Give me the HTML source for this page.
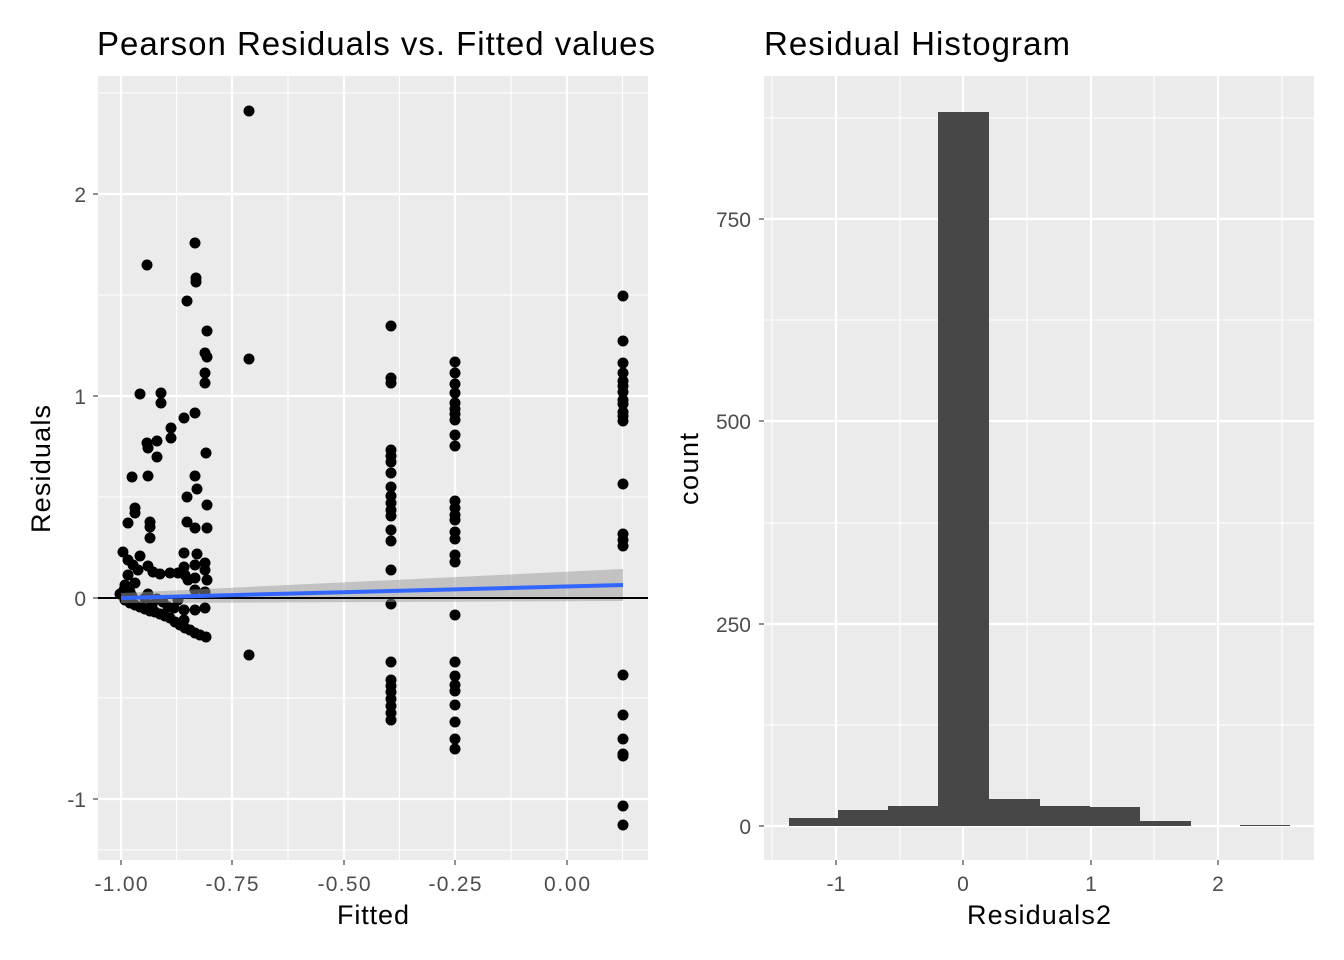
<!DOCTYPE html>
<html><head><meta charset="utf-8"><style>body{margin:0;background:#fff}svg{display:block;font-family:"Liberation Sans",Arial,sans-serif}</style></head><body>
<svg width="1344" height="960" viewBox="0 0 1344 960" xmlns="http://www.w3.org/2000/svg">
<rect width="1344" height="960" fill="#fff"/>
<!-- LEFT PANEL -->
<rect x="98" y="76" width="550" height="784" fill="#ebebeb"/>
<g stroke="#fff" stroke-width="1.1">
<line x1="176.5" y1="76" x2="176.5" y2="860"/><line x1="288" y1="76" x2="288" y2="860"/><line x1="399.5" y1="76" x2="399.5" y2="860"/><line x1="511" y1="76" x2="511" y2="860"/><line x1="622.5" y1="76" x2="622.5" y2="860"/>
<line x1="98" y1="93" x2="648" y2="93"/><line x1="98" y1="295" x2="648" y2="295"/><line x1="98" y1="497" x2="648" y2="497"/><line x1="98" y1="698" x2="648" y2="698"/><line x1="98" y1="850" x2="648" y2="850"/>
</g>
<g stroke="#fff" stroke-width="2.2">
<line x1="121" y1="76" x2="121" y2="860"/><line x1="232" y1="76" x2="232" y2="860"/><line x1="344" y1="76" x2="344" y2="860"/><line x1="455" y1="76" x2="455" y2="860"/><line x1="567" y1="76" x2="567" y2="860"/>
<line x1="98" y1="194" x2="648" y2="194"/><line x1="98" y1="396" x2="648" y2="396"/><line x1="98" y1="598" x2="648" y2="598"/><line x1="98" y1="799" x2="648" y2="799"/>
</g>
<g fill="#000">
<circle cx="249" cy="111" r="5.5"/><circle cx="249" cy="359" r="5.5"/><circle cx="249" cy="655" r="5.5"/>
<circle cx="147" cy="265" r="5.5"/><circle cx="195" cy="243" r="5.5"/><circle cx="196" cy="278" r="5.5"/><circle cx="196" cy="282" r="5.5"/><circle cx="187" cy="301" r="5.5"/><circle cx="207" cy="331" r="5.5"/><circle cx="205" cy="353" r="5.5"/><circle cx="207" cy="357" r="5.5"/><circle cx="205" cy="373" r="5.5"/><circle cx="205" cy="383" r="5.5"/><circle cx="140" cy="394" r="5.5"/><circle cx="161" cy="393" r="5.5"/><circle cx="161" cy="403" r="5.5"/><circle cx="184" cy="418" r="5.5"/><circle cx="195" cy="413" r="5.5"/><circle cx="171" cy="428" r="5.5"/><circle cx="171" cy="438" r="5.5"/><circle cx="147" cy="443" r="5.5"/><circle cx="148" cy="448" r="5.5"/><circle cx="157" cy="441" r="5.5"/><circle cx="157" cy="457" r="5.5"/><circle cx="206" cy="453" r="5.5"/><circle cx="132" cy="477" r="5.5"/><circle cx="148" cy="476" r="5.5"/><circle cx="195" cy="476" r="5.5"/><circle cx="197" cy="489" r="5.5"/><circle cx="187" cy="497" r="5.5"/><circle cx="207" cy="505" r="5.5"/><circle cx="135" cy="508" r="5.5"/><circle cx="135" cy="513" r="5.5"/><circle cx="128" cy="523" r="5.5"/><circle cx="150" cy="522" r="5.5"/><circle cx="150" cy="527" r="5.5"/><circle cx="150" cy="538" r="5.5"/><circle cx="187" cy="522" r="5.5"/><circle cx="195" cy="528" r="5.5"/><circle cx="207" cy="528" r="5.5"/><circle cx="184" cy="553" r="5.5"/><circle cx="197" cy="554" r="5.5"/>
<circle cx="123" cy="552" r="5.5"/><circle cx="128" cy="560" r="5.5"/><circle cx="133" cy="565" r="5.5"/><circle cx="138" cy="570" r="5.5"/><circle cx="140" cy="556" r="5.5"/><circle cx="148" cy="566" r="5.5"/><circle cx="153" cy="572" r="5.5"/><circle cx="160" cy="574" r="5.5"/><circle cx="170" cy="573" r="5.5"/><circle cx="178" cy="573" r="5.5"/><circle cx="185" cy="575" r="5.5"/><circle cx="195" cy="578" r="5.5"/><circle cx="205" cy="570" r="5.5"/><circle cx="207" cy="580" r="5.5"/><circle cx="205" cy="592" r="5.5"/><circle cx="188" cy="580" r="5.5"/><circle cx="195" cy="590" r="5.5"/><circle cx="184" cy="567" r="5.5"/><circle cx="195" cy="565" r="5.5"/><circle cx="205" cy="563" r="5.5"/>
<circle cx="125" cy="600" r="5.5"/><circle cx="130" cy="603" r="5.5"/><circle cx="135" cy="605" r="5.5"/><circle cx="140" cy="607" r="5.5"/><circle cx="145" cy="609" r="5.5"/><circle cx="150" cy="611" r="5.5"/><circle cx="155" cy="612" r="5.5"/><circle cx="160" cy="614" r="5.5"/><circle cx="165" cy="616" r="5.5"/><circle cx="170" cy="618" r="5.5"/><circle cx="175" cy="622" r="5.5"/><circle cx="180" cy="625" r="5.5"/><circle cx="185" cy="628" r="5.5"/><circle cx="190" cy="630" r="5.5"/><circle cx="195" cy="633" r="5.5"/><circle cx="200" cy="635" r="5.5"/><circle cx="206" cy="637" r="5.5"/><circle cx="184" cy="610" r="5.5"/><circle cx="184" cy="620" r="5.5"/><circle cx="195" cy="610" r="5.5"/><circle cx="205" cy="608" r="5.5"/><circle cx="163" cy="602" r="5.5"/><circle cx="145" cy="598" r="5.5"/><circle cx="152" cy="605" r="5.5"/><circle cx="130" cy="592" r="5.5"/><circle cx="135" cy="583" r="5.5"/><circle cx="125" cy="585" r="5.5"/><circle cx="128" cy="575" r="5.5"/><circle cx="148" cy="594" r="5.5"/><circle cx="157" cy="599" r="5.5"/><circle cx="168" cy="607" r="5.5"/><circle cx="174" cy="608" r="5.5"/><circle cx="178" cy="600" r="5.5"/><circle cx="120" cy="594" r="5.5"/><circle cx="124" cy="590" r="5.5"/><circle cx="132" cy="596" r="5.5"/>
<circle cx="391" cy="326" r="5.5"/><circle cx="391" cy="378" r="5.5"/><circle cx="391" cy="383" r="5.5"/><circle cx="391" cy="450" r="5.5"/><circle cx="391" cy="456" r="5.5"/><circle cx="391" cy="462" r="5.5"/><circle cx="391" cy="473" r="5.5"/><circle cx="391" cy="487" r="5.5"/><circle cx="391" cy="496" r="5.5"/><circle cx="391" cy="503" r="5.5"/><circle cx="391" cy="510" r="5.5"/><circle cx="391" cy="516" r="5.5"/><circle cx="391" cy="530" r="5.5"/><circle cx="391" cy="541" r="5.5"/><circle cx="391" cy="570" r="5.5"/><circle cx="391" cy="604" r="5.5"/><circle cx="391" cy="662" r="5.5"/><circle cx="391" cy="680" r="5.5"/><circle cx="391" cy="686" r="5.5"/><circle cx="391" cy="692" r="5.5"/><circle cx="391" cy="699" r="5.5"/><circle cx="391" cy="706" r="5.5"/><circle cx="391" cy="713" r="5.5"/><circle cx="391" cy="720" r="5.5"/>
<circle cx="455" cy="362" r="5.5"/><circle cx="455" cy="373" r="5.5"/><circle cx="455" cy="384" r="5.5"/><circle cx="455" cy="393" r="5.5"/><circle cx="455" cy="403" r="5.5"/><circle cx="455" cy="409" r="5.5"/><circle cx="455" cy="414" r="5.5"/><circle cx="455" cy="420" r="5.5"/><circle cx="455" cy="435" r="5.5"/><circle cx="455" cy="446" r="5.5"/><circle cx="455" cy="501" r="5.5"/><circle cx="455" cy="508" r="5.5"/><circle cx="455" cy="520" r="5.5"/><circle cx="455" cy="515" r="5.5"/><circle cx="455" cy="532" r="5.5"/><circle cx="455" cy="539" r="5.5"/><circle cx="455" cy="555" r="5.5"/><circle cx="455" cy="562" r="5.5"/><circle cx="455" cy="615" r="5.5"/><circle cx="455" cy="662" r="5.5"/><circle cx="455" cy="676" r="5.5"/><circle cx="455" cy="685" r="5.5"/><circle cx="455" cy="691" r="5.5"/><circle cx="455" cy="705" r="5.5"/><circle cx="455" cy="722" r="5.5"/><circle cx="455" cy="739" r="5.5"/><circle cx="455" cy="749" r="5.5"/>
<circle cx="623" cy="296" r="5.5"/><circle cx="623" cy="341" r="5.5"/><circle cx="623" cy="363" r="5.5"/><circle cx="623" cy="373" r="5.5"/><circle cx="623" cy="381" r="5.5"/><circle cx="623" cy="386" r="5.5"/><circle cx="623" cy="392" r="5.5"/><circle cx="623" cy="400" r="5.5"/><circle cx="623" cy="404" r="5.5"/><circle cx="623" cy="412" r="5.5"/><circle cx="623" cy="416" r="5.5"/><circle cx="623" cy="421" r="5.5"/><circle cx="623" cy="484" r="5.5"/><circle cx="623" cy="534" r="5.5"/><circle cx="623" cy="540" r="5.5"/><circle cx="623" cy="546" r="5.5"/><circle cx="623" cy="675" r="5.5"/><circle cx="623" cy="715" r="5.5"/><circle cx="623" cy="739" r="5.5"/><circle cx="623" cy="754" r="5.5"/><circle cx="623" cy="756" r="5.5"/><circle cx="623" cy="806" r="5.5"/><circle cx="623" cy="825" r="5.5"/>
</g>
<polygon points="121,593 623,569 623,601 121,603" fill="#999" fill-opacity="0.5"/>
<line x1="98" y1="598" x2="648" y2="598" stroke="#000" stroke-width="2"/>
<line x1="121" y1="598" x2="623" y2="585" stroke="#3366ff" stroke-width="4"/>
<g stroke="#333" stroke-width="1.1">
<line x1="121" y1="860" x2="121" y2="865"/><line x1="232" y1="860" x2="232" y2="865"/><line x1="344" y1="860" x2="344" y2="865"/><line x1="455" y1="860" x2="455" y2="865"/><line x1="567" y1="860" x2="567" y2="865"/>
<line x1="93" y1="194" x2="98" y2="194"/><line x1="93" y1="396" x2="98" y2="396"/><line x1="93" y1="598" x2="98" y2="598"/><line x1="93" y1="799" x2="98" y2="799"/>
</g>
<g fill="#4d4d4d" font-size="21">
<g text-anchor="middle"><text x="121" y="891" textLength="53">-1.00</text><text x="232" y="891" textLength="53">-0.75</text><text x="344" y="891" textLength="53">-0.50</text><text x="455" y="891" textLength="53">-0.25</text><text x="567" y="891" textLength="46">0.00</text></g>
<g text-anchor="end"><text x="86" y="202">2</text><text x="86" y="404">1</text><text x="86" y="606">0</text><text x="86" y="807">-1</text></g>
</g>
<text x="337" y="924" font-size="27" fill="#000" textLength="72">Fitted</text>
<text transform="translate(50,533) rotate(-90)" font-size="27" fill="#000" textLength="128">Residuals</text>
<text x="97" y="55" font-size="33" fill="#000" textLength="558">Pearson Residuals vs. Fitted values</text>
<!-- RIGHT PANEL -->
<rect x="764" y="76" width="550" height="784" fill="#ebebeb"/>
<g stroke="#fff" stroke-width="1.1">
<line x1="772" y1="76" x2="772" y2="860"/><line x1="900" y1="76" x2="900" y2="860"/><line x1="1027" y1="76" x2="1027" y2="860"/><line x1="1154" y1="76" x2="1154" y2="860"/><line x1="1282" y1="76" x2="1282" y2="860"/>
<line x1="764" y1="725" x2="1314" y2="725"/><line x1="764" y1="523" x2="1314" y2="523"/><line x1="764" y1="320" x2="1314" y2="320"/><line x1="764" y1="118" x2="1314" y2="118"/>
</g>
<g stroke="#fff" stroke-width="2.2">
<line x1="836" y1="76" x2="836" y2="860"/><line x1="963" y1="76" x2="963" y2="860"/><line x1="1091" y1="76" x2="1091" y2="860"/><line x1="1218" y1="76" x2="1218" y2="860"/>
<line x1="764" y1="826" x2="1314" y2="826"/><line x1="764" y1="624" x2="1314" y2="624"/><line x1="764" y1="421" x2="1314" y2="421"/><line x1="764" y1="219" x2="1314" y2="219"/>
</g>
<g fill="#474747">
<rect x="789" y="818" width="50" height="8"/><rect x="838" y="810" width="51" height="16"/><rect x="888" y="806" width="51" height="20"/><rect x="938" y="112" width="51" height="714"/><rect x="988" y="799" width="52" height="27"/><rect x="1039" y="806" width="51" height="20"/><rect x="1089" y="807" width="51" height="19"/><rect x="1139" y="821" width="52" height="5"/><rect x="1240" y="825" width="50" height="1"/>
</g>
<g stroke="#333" stroke-width="1.1">
<line x1="836" y1="860" x2="836" y2="865"/><line x1="963" y1="860" x2="963" y2="865"/><line x1="1091" y1="860" x2="1091" y2="865"/><line x1="1218" y1="860" x2="1218" y2="865"/>
<line x1="759" y1="826" x2="764" y2="826"/><line x1="759" y1="624" x2="764" y2="624"/><line x1="759" y1="421" x2="764" y2="421"/><line x1="759" y1="219" x2="764" y2="219"/>
</g>
<g fill="#4d4d4d" font-size="21">
<g text-anchor="middle"><text x="836" y="891">-1</text><text x="963" y="891">0</text><text x="1091" y="891">1</text><text x="1218" y="891">2</text></g>
<g text-anchor="end"><text x="751" y="834">0</text><text x="751" y="632">250</text><text x="751" y="429">500</text><text x="751" y="227">750</text></g>
</g>
<text x="967" y="924" font-size="27" fill="#000" textLength="144">Residuals2</text>
<text transform="translate(698,505) rotate(-90)" font-size="27" fill="#000" textLength="72">count</text>
<text x="764" y="55" font-size="33" fill="#000" textLength="306">Residual Histogram</text>
</svg>
</body></html>
